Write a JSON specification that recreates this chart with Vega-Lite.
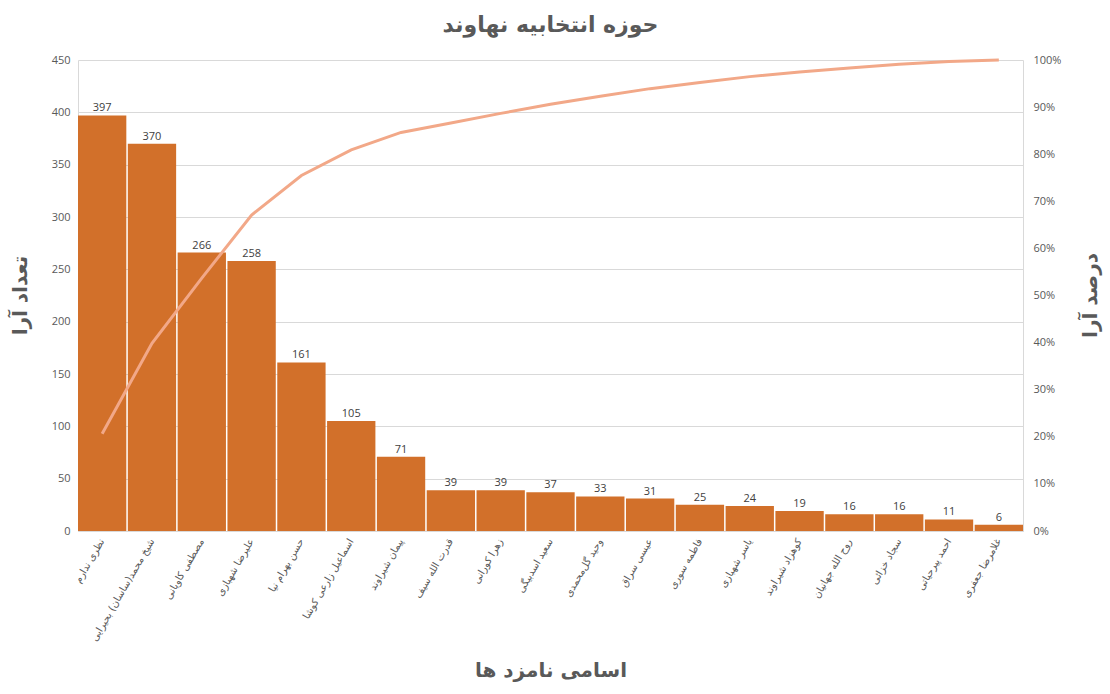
{
  "$schema": "https://vega.github.io/schema/vega-lite/v6.json",
  "autosize": "none",
  "padding": {"left": 78, "top": 60, "right": 87, "bottom": 163},
  "width": 945,
  "height": 471,
  "background": "white",
  "title": {
    "text": "حوزه انتخابیه نهاوند",
    "font": "DejaVu Sans",
    "fontSize": 22,
    "fontWeight": "bold",
    "color": "#595959",
    "anchor": "middle",
    "offset": 17
  },
  "config": {
    "font": "Open Sans",
    "view": {"stroke": null},
    "axis": {
      "labelColor": "#595959",
      "labelFontSize": 11,
      "titleColor": "#595959",
      "titleFont": "DejaVu Sans",
      "titleFontSize": 20,
      "titleFontWeight": "bold",
      "ticks": false,
      "domainColor": "#D9D9D9",
      "gridColor": "#D9D9D9"
    }
  },
  "data": {
    "values": [
      {"name": "نظری ندارم", "votes": 397, "cum": 0.2063},
      {"name": "شیخ محمد(ساسان) بحیرایی", "votes": 370, "cum": 0.3986},
      {"name": "مصطفی کاویانی", "votes": 266, "cum": 0.5369},
      {"name": "علیرضا شهبازی", "votes": 258, "cum": 0.671},
      {"name": "حسن بهرام نیا", "votes": 161, "cum": 0.7547},
      {"name": "اسماعیل زارعی کوشا", "votes": 105, "cum": 0.8093},
      {"name": "پیمان شیراوند", "votes": 71, "cum": 0.8462},
      {"name": "قدرت الله سیف", "votes": 39, "cum": 0.8664},
      {"name": "زهرا کورانی", "votes": 39, "cum": 0.8867},
      {"name": "سعید اسدبیگی", "votes": 37, "cum": 0.9059},
      {"name": "وحید گل‌محمدی", "votes": 33, "cum": 0.9231},
      {"name": "عیسی سراق", "votes": 31, "cum": 0.9392},
      {"name": "فاطمه سوری", "votes": 25, "cum": 0.9522},
      {"name": "یاسر شهبازی", "votes": 24, "cum": 0.9647},
      {"name": "کوهزاد شیراوند", "votes": 19, "cum": 0.9745},
      {"name": "روح الله جهانیان", "votes": 16, "cum": 0.9828},
      {"name": "سجاد خزائی", "votes": 16, "cum": 0.9912},
      {"name": "احمد پیرحیاتی", "votes": 11, "cum": 0.9969},
      {"name": "غلامرضا جعفری", "votes": 6, "cum": 1.0}
    ]
  },
  "encoding": {
    "x": {
      "field": "name",
      "type": "nominal",
      "sort": null,
      "scale": {"paddingInner": 0.03, "paddingOuter": 0},
      "axis": {
        "title": "اسامی نامزد ها",
        "titleY": 139,
        "titleBaseline": "middle",
        "labelAngle": -60,
        "labelAlign": "right",
        "labelBaseline": "middle",
        "labelFont": "DejaVu Sans",
        "labelFontSize": 10,
        "labelPadding": 8,
        "labelLimit": 200,
        "domainColor": "#D9D9D9"
      }
    }
  },
  "layer": [
    {
      "layer": [
        {
          "mark": {"type": "bar", "color": "#D2702A"}
        },
        {
          "mark": {"type": "text", "dy": -7, "fontSize": 11, "color": "#404040"},
          "encoding": {
            "text": {"field": "votes", "type": "quantitative"}
          }
        }
      ],
      "encoding": {
        "y": {
          "field": "votes",
          "type": "quantitative",
          "scale": {"domain": [0, 450]},
          "axis": {
            "title": "تعداد آرا",
            "titleAngle": -90,
            "titleX": -58,
            "titleY": 235,
            "titleBaseline": "middle",
            "values": [0, 50, 100, 150, 200, 250, 300, 350, 400, 450],
            "labelPadding": 8,
            "grid": true,
            "domain": true
          }
        }
      }
    },
    {
      "mark": {"type": "line", "color": "#F2A888", "strokeWidth": 3},
      "encoding": {
        "y": {
          "field": "cum",
          "type": "quantitative",
          "scale": {"domain": [0, 1]},
          "axis": {
            "orient": "right",
            "title": "درصد آرا",
            "titleAngle": -90,
            "titleX": 67,
            "titleY": 235,
            "titleBaseline": "middle",
            "format": ".0%",
            "values": [0, 0.1, 0.2, 0.3, 0.4, 0.5, 0.6, 0.7, 0.8, 0.9, 1.0],
            "labelPadding": 10,
            "grid": false,
            "domain": true
          }
        }
      }
    }
  ],
  "resolve": {"scale": {"y": "independent"}}
}
